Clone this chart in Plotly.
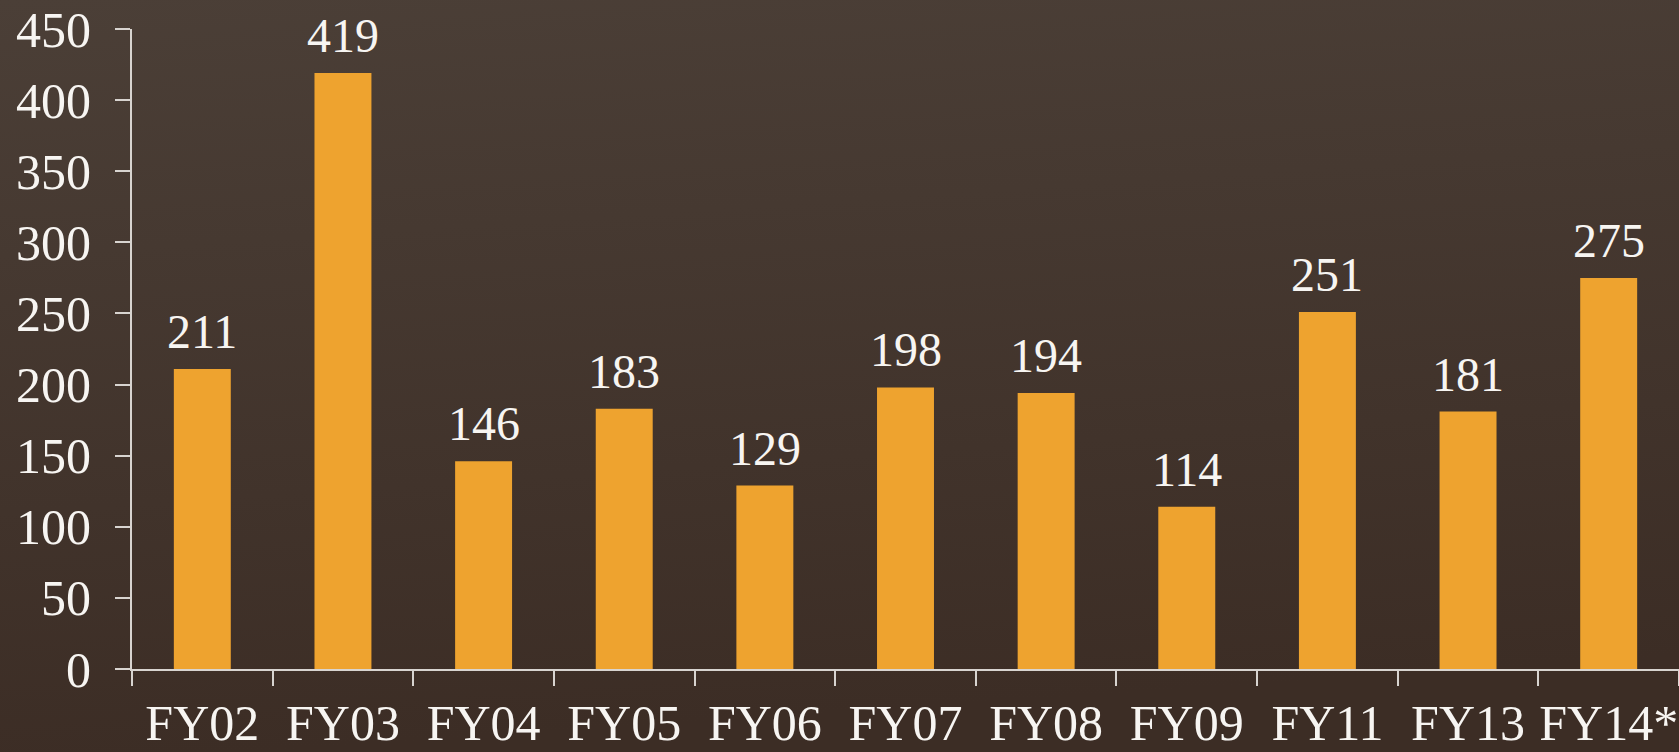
import base64
import plotly.graph_objects as go

categories = ["FY02", "FY03", "FY04", "FY05", "FY06", "FY07", "FY08", "FY09", "FY11", "FY13", "FY14*"]
values = [211, 419, 146, 183, 129, 198, 194, 114, 251, 181, 275]
y_ticks = [0, 50, 100, 150, 200, 250, 300, 350, 400, 450]

BAR = "#EEA32F"
TXT = "#F7F5F2"
AXIS = "#D8D4D0"
FONT = "Liberation Serif, Times New Roman, serif"

W, H = 1679, 752
ML, MR, MT, MB = 132, 0, 29, 83
PW, PH = W - ML - MR, H - MT - MB

svg = (
    '<svg xmlns="http://www.w3.org/2000/svg" width="100" height="100" preserveAspectRatio="none">'
    '<defs><linearGradient id="g" x1="0" y1="0" x2="0.15" y2="1">'
    '<stop offset="0" stop-color="#4b3f37"/><stop offset="1" stop-color="#3c2d25"/>'
    '</linearGradient></defs><rect width="100" height="100" fill="url(#g)"/></svg>'
)
bg_src = "data:image/svg+xml;base64," + base64.b64encode(svg.encode()).decode()

fig = go.Figure()
fig.add_trace(go.Bar(
    x=categories, y=values, marker=dict(color=BAR, line=dict(width=0)),
    hoverinfo="x+y",
))

for c, v in zip(categories, values):
    fig.add_annotation(
        x=c, y=v, text=str(v), showarrow=False, yanchor="bottom",
        yshift=9, font=dict(family=FONT, size=48, color=TXT),
    )

fig.update_layout(
    width=W, height=H, autosize=False,
    margin=dict(l=ML, r=MR, t=MT, b=MB, autoexpand=False),
    paper_bgcolor="#443730", plot_bgcolor="rgba(0,0,0,0)",
    bargap=0.595, showlegend=False,
    font=dict(family=FONT, color=TXT),
    images=[dict(source=bg_src, xref="paper", yref="paper",
                 x=-ML / PW, y=1 + MT / PH, sizex=W / PW, sizey=H / PH,
                 sizing="stretch", layer="below",
                 xanchor="left", yanchor="top")],
)

fig.update_xaxes(
    showgrid=False, showline=True, linecolor=AXIS, linewidth=2,
    ticks="outside", tickson="boundaries", ticklen=15, tickwidth=2, tickcolor=AXIS,
    tickfont=dict(family=FONT, size=50, color=TXT), ticklabelstandoff=9,
    tickangle=0, automargin=False, zeroline=False,
)
fig.update_yaxes(
    range=[0, 450], tickvals=y_ticks, showgrid=False, showline=True,
    linecolor=AXIS, linewidth=2, ticks="outside", ticklen=15, tickwidth=2,
    tickcolor=AXIS, tickfont=dict(family=FONT, size=50, color=TXT),
    ticklabelstandoff=14, automargin=False, zeroline=False,
)

fig.write_html("out.html")
